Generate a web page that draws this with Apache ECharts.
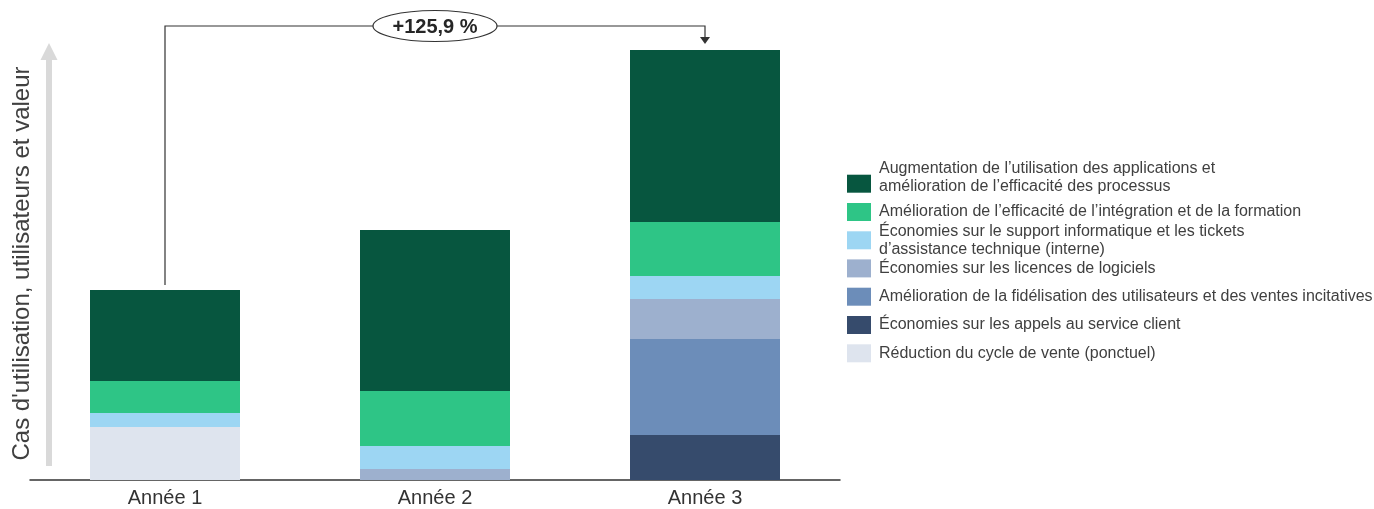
<!DOCTYPE html>
<html><head><meta charset="utf-8">
<script src="https://cdn.jsdelivr.net/npm/echarts@6/dist/echarts.min.js"></script>
<style>html,body{margin:0;padding:0;background:#fff}#c{width:1374px;height:509px}</style>
</head><body><div id="c"></div>
<script>
// ---- data ----
const categories = ['Année 1', 'Année 2', 'Année 3'];
// stack order, bottom to top
const reduction = [53, 0, 0];        // Réduction du cycle de vente (ponctuel)
const appelsService = [0, 0, 45];    // Économies sur les appels au service client
const fidelisation = [0, 0, 96];     // Amélioration de la fidélisation ...
const licences = [0, 11, 40];        // Économies sur les licences de logiciels
const supportIT = [14, 23, 23];      // Économies sur le support informatique ...
const integration = [32, 55, 54];    // Amélioration de l’efficacité de l’intégration ...
const augmentation = [91, 161, 172]; // Augmentation de l’utilisation des applications ...
const seriesNames = [
  'Réduction du cycle de vente (ponctuel)',
  'Économies sur les appels au service client',
  'Amélioration de la fidélisation des utilisateurs et des ventes incitatives',
  'Économies sur les licences de logiciels',
  'Économies sur le support informatique et les tickets d’assistance technique (interne)',
  'Amélioration de l’efficacité de l’intégration et de la formation',
  'Augmentation de l’utilisation des applications et amélioration de l’efficacité des processus'
];
const legendLabels = [
  'Réduction du cycle de vente (ponctuel)',
  'Économies sur les appels au service client',
  'Amélioration de la fidélisation des utilisateurs et des ventes incitatives',
  'Économies sur les licences de logiciels',
  'Économies sur le support informatique et les tickets\nd’assistance technique (interne)',
  'Amélioration de l’efficacité de l’intégration et de la formation',
  'Augmentation de l’utilisation des applications et\namélioration de l’efficacité des processus\n{g13| }'
];
const colors = ['#DEE4EE', '#364B6C', '#6C8DB9', '#9DB0CE', '#9DD6F3', '#2EC586', '#07563F'];
const changeLabel = '+125,9 %';
const yAxisTitle = "Cas d'utilisation, utilisateurs et valeur";

// ---- chart ----
const stacks = [reduction, appelsService, fidelisation, licences, supportIT, integration, augmentation];
const FONT = '"Liberation Sans", Arial, Helvetica, sans-serif';
const chart = echarts.init(document.getElementById('c'), null, {renderer: 'canvas'});

// legend layout (top to bottom = reverse of stack order)
const legendTops = [344.3, 316, 287.7, 259.4, 222.3, 203, 159.2];
const legends = seriesNames.map((n, i) => ({
  data: [n],
  left: 847,
  top: legendTops[i],
  orient: 'vertical',
  padding: 0,
  itemWidth: 24,
  itemHeight: 18,
  icon: 'rect',
  selectedMode: false,
  formatter: () => legendLabels[i],
  textStyle: {
    fontFamily: FONT, fontSize: 16, color: '#404040', lineHeight: 18,
    padding: [0, 0, 0, 3],
    rich: {g13: {fontSize: 1, lineHeight: 13}}
  }
}));

const option = {
  animation: false,
  backgroundColor: '#fff',
  grid: {left: 30, width: 810, top: 50, bottom: 29, containLabel: false},
  legend: legends,
  xAxis: {
    type: 'category',
    data: categories,
    axisLine: {lineStyle: {color: '#333', width: 1.5}},
    axisTick: {show: false},
    axisLabel: {fontFamily: FONT, fontSize: 20, color: '#333', margin: 8}
  },
  yAxis: {type: 'value', min: 0, max: 430, show: false},
  series: stacks.map((d, i) => ({
    name: seriesNames[i],
    type: 'bar',
    stack: 'total',
    barWidth: 150,
    data: d,
    itemStyle: {color: colors[i]}
  }))
};
chart.setOption(option);

// ---- annotations derived from data ----
const totals = categories.map((_, i) => stacks.reduce((s, a) => s + a[i], 0));
const p1 = chart.convertToPixel({xAxisIndex: 0, yAxisIndex: 0}, [0, totals[0]]);
const p3 = chart.convertToPixel({xAxisIndex: 0, yAxisIndex: 0}, [2, totals[2]]);
const base = chart.convertToPixel({xAxisIndex: 0, yAxisIndex: 0}, [0, 0]);
const lineY = 26;
const cxE = (p1[0] + p3[0]) / 2;
chart.setOption({
  graphic: [
    // y axis grey arrow
    {type: 'rect', shape: {x: 46, y: 58, width: 6, height: base[1] - 14 - 58}, style: {fill: '#D9D9D9'}},
    {type: 'polygon', shape: {points: [[40.5, 60], [57.5, 60], [49, 43]]}, style: {fill: '#D9D9D9'}},
    {type: 'text', x: 22, y: 263.5, rotation: Math.PI / 2,
      style: {text: yAxisTitle, font: '24px ' + FONT, fill: '#404040', align: 'center', verticalAlign: 'middle'}},
    // bracket
    {type: 'polyline', shape: {points: [[p1[0], p1[1] - 5], [p1[0], lineY], [p3[0], lineY], [p3[0], p3[1] - 12]]},
      style: {stroke: '#333', lineWidth: 1.2, fill: null}},
    {type: 'polygon', shape: {points: [[p3[0] - 5, p3[1] - 13], [p3[0] + 5, p3[1] - 13], [p3[0], p3[1] - 6]]},
      style: {fill: '#333'}},
    {type: 'ellipse', shape: {cx: cxE, cy: lineY, rx: 62, ry: 15.5}, style: {fill: '#fff', stroke: '#333', lineWidth: 1.2}, z: 10},
    {type: 'text', x: cxE, y: lineY + 1, z: 11,
      style: {text: changeLabel, font: 'bold 20px ' + FONT, fill: '#262626', align: 'center', verticalAlign: 'middle'}}
  ]
});
</script>
</body></html>
